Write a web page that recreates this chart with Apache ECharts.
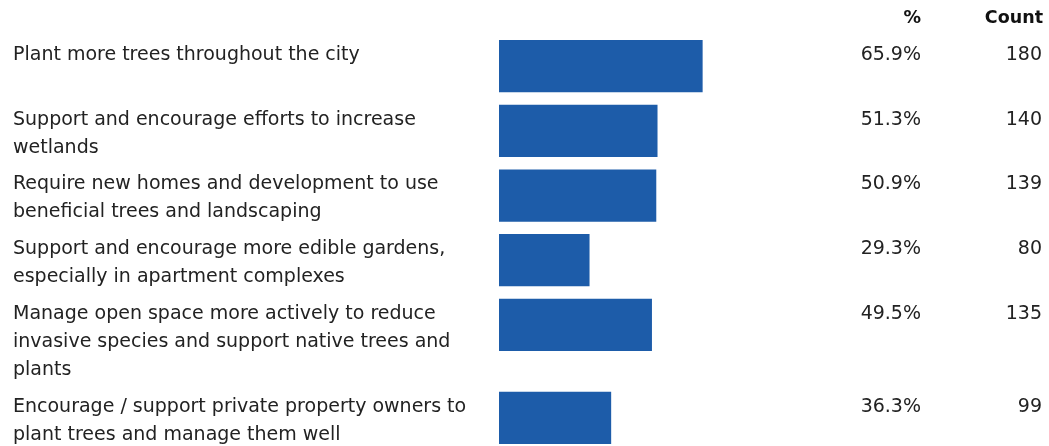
<!DOCTYPE html>
<html>
<head>
<meta charset="utf-8">
<script src="https://cdn.jsdelivr.net/npm/echarts@6/dist/echarts.min.js"></script>
<style>
  html, body { margin: 0; padding: 0; background: #fff; }
  #chart { width: 1049px; height: 446px; }
</style>
</head>
<body>
<div id="chart"></div>
<script>
// Survey responses: share of respondents choosing each action, and raw counts
const actions = [
  'Plant more trees throughout the city',
  'Support and encourage efforts to increase\nwetlands',
  'Require new homes and development to use\nbeneficial trees and landscaping',
  'Support and encourage more edible gardens,\nespecially in apartment complexes',
  'Manage open space more actively to reduce\ninvasive species and support native trees and\nplants',
  'Encourage / support private property owners to\nplant trees and manage them well'
];
const percents = [65.9, 51.3, 50.9, 29.3, 49.5, 36.3];
const pctLabels = ['65.9%', '51.3%', '50.9%', '29.3%', '49.5%', '36.3%'];
const counts = [180, 140, 139, 80, 135, 99];
const headers = ['%', 'Count'];

// Rows grow with the number of wrapped label lines; y units are text lines.
const ROW_BASE = 2.29;   // pitch of a row holding up to two lines
const BAR_H = 1.85;      // bar thickness in line units
const LINE_H = 28;       // px per label line

const rowTops = [];
let acc = 0;
actions.forEach(function (a) {
  rowTops.push(acc);
  const lines = a.split('\n').length;
  acc += ROW_BASE + Math.max(0, lines - 2);
});
const yMax = rowTops[rowTops.length - 1] + BAR_H;

const data = percents.map(function (p, i) { return [p, rowTops[i], i]; });

const FONT = '"DejaVu Sans", Verdana, sans-serif';
const TEXT = '#222222';

const chart = echarts.init(document.getElementById('chart'), null, { renderer: 'canvas' });

chart.setOption({
  backgroundColor: '#ffffff',
  animation: false,
  grid: { left: 499, width: 309, top: 40, height: 404 },
  xAxis: { type: 'value', min: 0, max: 100, show: false },
  yAxis: { type: 'value', min: 0, max: yMax, inverse: true, show: false },
  graphic: [
    { type: 'text', right: 1049 - 921, top: 9,
      style: { text: headers[0], font: 'bold 17.5px ' + FONT, fill: '#111', textAlign: 'right' } },
    { type: 'text', right: 6, top: 9,
      style: { text: headers[1], font: 'bold 17.5px ' + FONT, fill: '#111', textAlign: 'right' } }
  ],
  series: [{
    type: 'custom',
    data: data,
    encode: { x: 0, y: 1 },
    renderItem: function (params, api) {
      const idx = api.value(2);
      const top = api.value(1);
      const p0 = api.coord([0, top]);
      const p1 = api.coord([api.value(0), top + BAR_H]);
      const textY = p0[1] + 1;
      return {
        type: 'group',
        children: [
          { type: 'rect',
            shape: { x: p0[0], y: p0[1], width: p1[0] - p0[0], height: p1[1] - p0[1] },
            style: { fill: '#1d5ca9' } },
          { type: 'text',
            style: { x: 13, y: textY, text: actions[idx], font: '19px ' + FONT,
                     fill: TEXT, lineHeight: LINE_H, verticalAlign: 'top', textAlign: 'left' } },
          { type: 'text',
            style: { x: 921, y: textY, text: pctLabels[idx], font: '19px ' + FONT,
                     fill: TEXT, lineHeight: LINE_H, verticalAlign: 'top', textAlign: 'right' } },
          { type: 'text',
            style: { x: 1042, y: textY, text: String(counts[idx]), font: '19px ' + FONT,
                     fill: TEXT, lineHeight: LINE_H, verticalAlign: 'top', textAlign: 'right' } }
        ]
      };
    }
  }]
});
</script>
</body>
</html>
